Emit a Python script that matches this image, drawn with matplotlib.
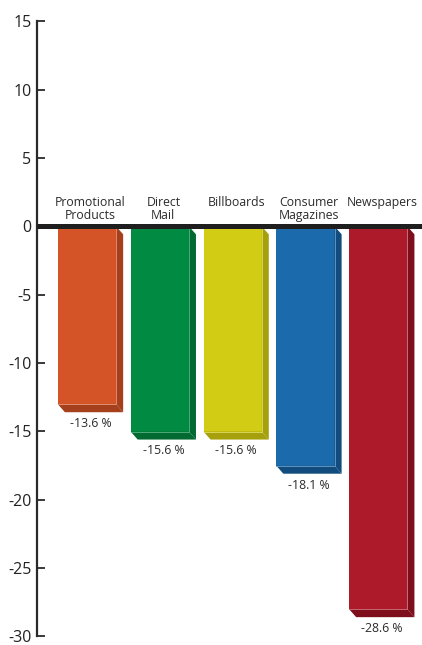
import matplotlib
matplotlib.use("Agg")
import matplotlib.pyplot as plt
from matplotlib.patches import Polygon, Rectangle
from matplotlib.colors import to_rgb

plt.rcParams["font.family"] = ["Open Sans", "DejaVu Sans"]
plt.rcParams["axes.unicode_minus"] = False

# Data
categories = ["Promotional\nProducts", "Direct\nMail", "Billboards",
              "Consumer\nMagazines", "Newspapers"]
changes = [-13.6, -15.6, -15.6, -18.1, -28.6]
value_labels = ["-13.6 %", "-15.6 %", "-15.6 %", "-18.1 %", "-28.6 %"]
yticks = [15, 10, 5, 0, -5, -10, -15, -20, -25, -30]

front_colors = ["#D55427", "#008A42", "#D2CC14", "#1B6BAC", "#AD1B2B"]
shade_colors = ["#A63F1B", "#006A31", "#A5A00C", "#124B7D", "#7F0E1C"]

fig = plt.figure(figsize=(4.22, 6.45), dpi=100)
ax = fig.add_axes([0.0877, 0.0135, 0.9123, 0.9532])
ax.set_xlim(-0.687, 4.60)
ax.set_ylim(-30, 15)

width = 0.80      # front face width (category units)
dx = 0.096        # extrusion to the right (category units)
dy = 0.58         # extrusion downward (value units)


def lighten(c, f):
    r, g, b = to_rgb(c)
    return (r + (1 - r) * f, g + (1 - g) * f, b + (1 - b) * f)


for i, (v, fc, sc) in enumerate(zip(changes, front_colors, shade_colors)):
    x0, x1 = i - width / 2, i + width / 2
    fb = v + dy
    # front face
    ax.add_patch(Rectangle((x0, fb), width, -fb, facecolor=fc,
                           edgecolor="none", zorder=2))
    # right side face
    ax.add_patch(Polygon([(x1, 0), (x1 + dx, -dy), (x1 + dx, v), (x1, fb)],
                         closed=True, facecolor=sc, edgecolor="none", zorder=2))
    # bottom face
    ax.add_patch(Polygon([(x0, fb), (x1, fb), (x1 + dx, v), (x0 + dx, v)],
                         closed=True, facecolor=sc, edgecolor="none", zorder=2))
    # soft highlight along the front edges
    hl = lighten(fc, 0.35)
    ax.plot([x0, x1, x1], [fb, fb, 0], color=hl, lw=0.6, zorder=3,
            solid_joinstyle="miter")

    ax.text(i + dx / 2, 2.25, categories[i], ha="center", va="top",
            fontsize=8.8, color="#2b2b2b", linespacing=1.0, zorder=4)
    ax.annotate(value_labels[i], xy=(i + dx / 2, v), xytext=(0, -3.5),
                textcoords="offset points", ha="center", va="top",
                fontsize=8.8, color="#2b2b2b", zorder=4)

# zero baseline
ax.axhline(0, color="#1e1e1e", lw=3.6, zorder=5, solid_capstyle="butt")

for side in ["top", "right", "bottom"]:
    ax.spines[side].set_visible(False)
ax.spines["left"].set_linewidth(1.6)
ax.spines["left"].set_color("#2a2a2a")
ax.set_xticks([])
ax.set_yticks(yticks)
ax.set_yticklabels([str(t) for t in yticks])
ax.tick_params(axis="y", direction="in", length=6, width=1.3, color="#2a2a2a",
               labelsize=11.5, labelcolor="#222222", pad=4)
ax.patch.set_alpha(0)

fig.savefig("out.png", dpi=100)
